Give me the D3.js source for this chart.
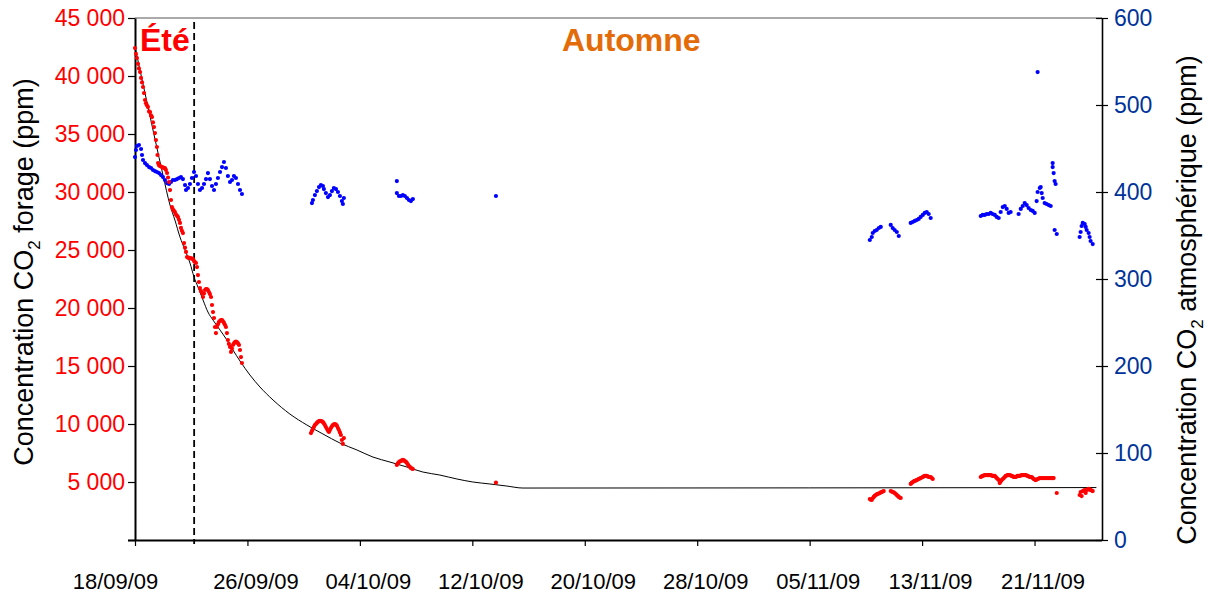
<!DOCTYPE html>
<html>
<head>
<meta charset="utf-8">
<script src="https://cdn.jsdelivr.net/npm/d3@7"></script>
<style>
  html, body { margin: 0; padding: 0; background: #fff; }
  svg { display: block; font-family: "Liberation Sans", Arial, sans-serif; }
</style>
</head>
<body>
<svg id="chart" width="1210" height="593"></svg>
<script>
// Time origin of the record; series positions are given in days since this date.
const startDate = "2009-09-18T00:00";
const endDate = "2009-11-25T19:12";
const autumnStart = "2009-09-22T05:00";

// Date axis tick labels (dd/mm/yy)
const dateTicks = ["18/09/09", "26/09/09", "04/10/09", "12/10/09", "20/10/09",
                   "28/10/09", "05/11/09", "13/11/09", "21/11/09"];
const boreholeTicks = [0, 5000, 10000, 15000, 20000, 25000, 30000, 35000, 40000, 45000];
const atmosphereTicks = [0, 100, 200, 300, 400, 500, 600];
const seasonLabels = ["Été", "Automne"];

// Borehole CO2 concentration (ppm): [days since start, ppm]
const boreholeCO2 = [
  [0.00,42410],[0.07,41900],[0.14,41550],[0.21,41050],[0.28,40650],[0.36,40340],[0.43,39830],
  [0.50,39450],[0.57,39050],[0.64,38530],[0.71,37930],[0.78,37650],[0.85,37480],[0.92,37320],
  [1.00,36950],[1.07,36890],[1.14,36600],[1.21,36460],[1.28,36000],[1.35,35600],[1.42,35080],
  [1.49,34480],[1.56,33880],[1.60,33190],[1.64,32500],[1.71,32300],[1.78,32240],[1.85,32200],
  [1.92,32150],[1.99,32100],[2.06,32080],[2.13,32070],[2.20,31900],[2.28,31640],[2.35,31250],
  [2.42,30860],[2.49,30170],[2.56,29310],[2.63,28700],[2.70,28500],[2.77,28380],[2.84,28270],
  [2.92,28050],[2.99,27950],[3.06,27840],[3.13,27600],[3.20,27330],[3.27,26900],[3.34,26650],
  [3.41,26460],[3.49,25600],[3.56,25200],[3.63,24830],[3.70,24390],[3.77,24350],[3.84,24320],
  [3.91,24310],[3.98,24280],[4.06,24250],[4.13,24220],[4.20,24050],[4.27,23950],[4.34,23880],
  [4.41,23530],[4.48,22840],[4.55,22240],[4.62,21720],[4.70,21450],[4.77,21290],[4.84,20950],
  [4.91,21250],[4.98,21550],[5.05,21620],[5.12,21640],[5.19,21550],[5.26,21380],[5.33,21200],
  [5.41,20950],[5.48,20260],[5.55,19650],[5.62,19140],[5.69,18360],[5.76,17840],[5.83,18360],
  [5.90,18600],[5.97,18790],[6.05,18900],[6.12,18960],[6.19,18960],[6.26,18850],[6.33,18710],
  [6.40,18550],[6.47,18360],[6.54,17840],[6.61,17240],[6.68,16900],[6.76,16640],[6.83,16210],
  [6.90,16500],[6.97,16810],[7.04,16950],[7.11,17070],[7.18,17100],[7.25,17070],[7.33,16950],
  [7.40,16810],[7.47,16380],[7.54,15770],[7.61,15260],
  [12.52,9220],[12.59,9400],[12.66,9570],[12.73,9750],[12.80,9910],[12.87,10000],[12.94,10090],
  [13.01,10180],[13.09,10260],[13.16,10280],[13.23,10260],[13.30,10220],[13.37,10170],[13.44,10050],
  [13.51,9910],[13.58,9740],[13.66,9570],[13.73,9420],[13.80,9310],[13.87,9480],[13.94,9650],
  [14.01,9800],[14.08,9910],[14.15,9970],[14.22,10000],[14.30,9940],[14.37,9830],[14.44,9650],
  [14.51,9480],[14.58,9270],[14.65,9050],[14.72,8620],[14.79,8280],[14.86,8790],
  [18.63,6470],[18.70,6600],[18.78,6720],[18.85,6770],[18.92,6810],[18.99,6860],[19.06,6900],
  [19.13,6860],[19.20,6810],[19.28,6730],[19.35,6640],[19.42,6500],[19.49,6380],[19.56,6290],
  [19.63,6210],[19.70,6160],[19.77,6120],
  [25.68,4940],
  [52.28,3530],[52.35,3480],[52.42,3450],[52.49,3600],[52.56,3710],[52.63,3800],[52.70,3880],
  [52.77,3930],[52.84,3970],[52.92,4010],[52.99,4050],[53.06,4100],[53.13,4140],[53.20,4180],
  [53.27,4220],
  [53.77,4220],[53.84,4180],[53.91,4140],[53.98,4100],[54.05,4050],[54.13,3960],[54.20,3880],
  [54.27,3800],[54.34,3710],[54.41,3660],[54.48,3620],
  [55.19,4830],[55.26,4920],[55.33,5000],[55.41,5050],[55.48,5090],[55.55,5130],[55.62,5170],
  [55.69,5210],[55.76,5260],[55.83,5300],[55.90,5340],[55.98,5390],[56.05,5430],[56.12,5480],
  [56.19,5520],[56.26,5520],[56.33,5520],[56.40,5480],[56.47,5430],[56.54,5430],[56.61,5430],
  [56.69,5340],[56.76,5260],
  [60.17,5430],[60.24,5480],[60.31,5520],[60.39,5560],[60.46,5600],[60.53,5600],[60.60,5600],
  [60.67,5600],[60.74,5600],[60.81,5600],[60.88,5600],[60.95,5560],[61.02,5520],[61.09,5520],
  [61.17,5520],[61.24,5430],[61.31,5340],[61.38,5260],[61.45,5170],[61.52,4910],[61.59,5040],
  [61.66,5170],[61.74,5260],[61.81,5340],[61.88,5430],[61.95,5520],[62.02,5560],[62.09,5600],
  [62.16,5600],[62.23,5600],[62.30,5560],[62.38,5520],[62.45,5480],[62.52,5430],[62.59,5430],
  [62.66,5430],[62.73,5480],[62.80,5520],[62.87,5520],[62.94,5520],[63.02,5560],[63.09,5600],
  [63.16,5600],[63.23,5600],[63.30,5600],[63.37,5600],[63.44,5560],[63.51,5520],[63.58,5480],
  [63.66,5430],[63.73,5430],[63.80,5430],[63.87,5340],[63.94,5260],[64.01,5210],[64.08,5170],
  [64.15,5210],[64.22,5260],[64.30,5300],[64.37,5340],[64.47,5340],[64.58,5340],[64.68,5340],
  [64.79,5340],[64.90,5340],[65.01,5340],[65.11,5340],[65.22,5340],[65.29,5340],[65.36,5340],
  [65.58,4050],
  [67.21,3880],[67.28,4140],[67.35,3790],[67.43,4220],[67.50,4260],[67.57,4310],[67.64,4050],
  [67.71,4310],[67.78,4350],[67.85,4400],[67.92,4350],[67.99,4310],[68.07,4260],[68.14,4220]
];

// Fitted decay curve of the borehole concentration: [days since start, ppm]
const boreholeFit = [
  [0.00,42500],[0.71,38530],[1.42,34570],[1.99,31460],[2.49,28880],[2.84,27580],[3.20,26120],
  [3.56,25000],[3.91,23880],[4.20,22670],[4.48,21810],[4.84,20690],[5.19,19650],[5.55,18960],
  [6.05,18100],[6.54,17240],[6.97,16380],[7.47,15430],[8.18,14220],[8.89,13190],[9.82,12070],
  [11.02,10860],[12.23,9910],[13.37,9140],[14.58,8360],[15.79,7760],[16.93,7150],[18.14,6720],
  [19.35,6290],[20.48,5860],[21.69,5600],[22.90,5260],[24.04,5000],[25.25,4830],[26.46,4650],
  [27.60,4480],[68.40,4520]
];

// Atmospheric CO2 concentration (ppm): [days since start, ppm]
const atmosphericCO2 = [
  [0.00,440.2],[0.07,448.3],[0.14,452.9],[0.28,454.0],[0.43,449.4],[0.50,442.5],[0.57,436.8],
  [0.71,433.3],[0.85,431.0],[1.00,428.7],[1.14,427.6],[1.28,425.3],[1.42,424.1],[1.56,423.0],
  [1.71,421.8],[1.85,419.5],[1.99,417.2],[2.13,413.8],[2.28,410.3],[2.42,409.2],[2.56,411.5],
  [2.70,413.8],[2.84,413.8],[2.99,414.9],[3.13,416.1],[3.27,417.2],[3.41,414.9],[3.56,408.0],
  [3.63,402.3],[3.77,404.6],[3.91,409.2],[4.05,416.1],[4.20,423.0],[4.34,418.4],[4.48,409.2],
  [4.62,402.3],[4.77,404.6],[4.91,409.2],[5.05,414.9],[5.19,421.8],[5.33,414.9],[5.48,406.9],
  [5.62,402.3],[5.76,409.2],[5.90,416.1],[6.05,423.0],[6.19,428.7],[6.33,434.5],[6.47,427.6],
  [6.61,418.4],[6.76,411.5],[6.90,413.8],[7.04,418.4],[7.18,416.1],[7.33,409.2],[7.47,402.3],
  [7.61,397.7],
  [12.59,387.3],[12.66,390.8],[12.80,396.5],[12.94,401.1],[13.09,405.7],[13.23,408.0],[13.37,406.9],
  [13.44,403.4],[13.58,398.8],[13.73,394.2],[13.87,396.5],[14.01,401.1],[14.15,404.6],[14.30,403.4],
  [14.44,400.0],[14.58,395.4],[14.72,389.6],[14.79,386.2],[14.86,393.1],
  [18.63,412.6],[18.63,398.8],[18.78,395.4],[18.92,395.4],[19.06,396.5],[19.20,395.4],[19.35,393.1],
  [19.49,390.8],[19.63,389.6],[19.77,391.9],
  [25.68,395.4],
  [52.28,344.8],[52.42,348.3],[52.49,352.9],[52.63,355.2],[52.77,356.3],[52.92,358.6],[53.06,359.8],
  [53.77,362.1],[53.91,358.6],[54.05,356.3],[54.20,354.0],[54.34,349.4],
  [55.19,364.4],[55.33,365.5],[55.48,366.7],[55.62,367.8],[55.76,369.0],[55.90,371.3],[56.05,373.6],
  [56.19,375.9],[56.33,377.0],[56.47,374.7],[56.61,370.1],
  [60.17,372.4],[60.31,373.6],[60.46,373.6],[60.60,374.7],[60.74,374.7],[60.88,375.9],[61.02,374.7],
  [61.17,373.6],[61.31,371.3],[61.45,370.1],[61.59,377.0],[61.74,382.7],[61.88,383.9],[62.02,380.5],
  [62.16,375.9],[62.30,377.0],[62.87,374.7],[63.02,380.5],[63.16,383.9],[63.30,387.3],[63.44,385.0],
  [63.58,381.6],[63.73,379.3],[63.87,378.2],[64.01,375.9],[64.15,389.6],[64.22,400.0],[64.37,404.6],
  [64.44,405.7],[64.51,398.8],[64.58,393.1],[64.72,387.3],[64.86,386.2],[65.01,385.0],[65.15,383.9],
  [64.22,537.9],
  [65.29,433.3],[65.29,428.7],[65.36,421.8],[65.43,412.6],[65.50,409.2],
  [65.43,356.3],[65.58,351.7],
  [67.21,348.3],[67.28,354.0],[67.35,360.9],[67.43,364.4],[67.57,363.2],[67.64,359.8],[67.71,356.3],
  [67.85,352.9],[67.92,348.3],[67.99,343.7],[68.14,340.2]
];

const svg = d3.select("#chart");
const margin = { left: 135, right: 108, top: 18, bottom: 53 };
const W = +svg.attr("width"), H = +svg.attr("height");
const x0 = margin.left, x1 = W - margin.right, y0 = margin.top, y1 = H - margin.bottom;
const tickFont = 23;

const parseISO = d3.timeParse("%Y-%m-%dT%H:%M");
const parseTick = d3.timeParse("%d/%m/%y");
const t0 = parseISO(startDate);
const dayToDate = d => new Date(t0.getTime() + d * 864e5);

const x = d3.scaleTime().domain([t0, parseISO(endDate)]).range([x0, x1]);
const yL = d3.scaleLinear().domain([0, 45000]).range([y1, y0]);
const yR = d3.scaleLinear().domain([0, 600]).range([y1, y0]);

const fr = d3.formatLocale({ decimal: ",", thousands: " ", grouping: [3], currency: ["", " €"] });
const fmtThousands = fr.format(",");

// Plot frame top edge
svg.append("line").attr("x1", x0).attr("x2", x1).attr("y1", y0).attr("y2", y0)
  .attr("stroke", "#555").attr("stroke-width", 1);

// Left axis (borehole)
const gL = svg.append("g").attr("transform", `translate(${x0},0)`)
  .call(d3.axisLeft(yL).tickValues(boreholeTicks).tickSizeInner(7).tickSizeOuter(0).tickPadding(3)
    .tickFormat(d => d === 0 ? "" : fmtThousands(d)));
gL.select(".domain").attr("stroke", "#000").attr("stroke-width", 2);
gL.selectAll(".tick line").attr("stroke", "#000").attr("stroke-width", 1.2);
gL.selectAll(".tick text").attr("fill", "#ff0000").attr("font-size", tickFont)
  .attr("font-family", "Liberation Sans, Arial, sans-serif");

// Right axis (atmosphere)
const gR = svg.append("g").attr("transform", `translate(${x1},0)`)
  .call(d3.axisRight(yR).tickValues(atmosphereTicks).tickSizeInner(6).tickSizeOuter(0).tickPadding(6));
gR.select(".domain").attr("stroke", "#000").attr("stroke-width", 1.6);
gR.selectAll(".tick line").attr("x1", -6).attr("stroke", "#000").attr("stroke-width", 1.2);
gR.selectAll(".tick text").attr("fill", "#003399").attr("font-size", tickFont)
  .attr("font-family", "Liberation Sans, Arial, sans-serif");

// Bottom date axis
const tickDates = dateTicks.map(parseTick);
const gB = svg.append("g").attr("transform", `translate(0,${y1})`)
  .call(d3.axisBottom(x).tickValues(tickDates).tickSizeInner(6).tickSizeOuter(0).tickPadding(27)
    .tickFormat(d3.timeFormat("%d/%m/%y")));
gB.select(".domain").attr("stroke", "#000").attr("stroke-width", 2)
  .attr("d", `M${x0 - 7},0.5H${x1}`);
gB.selectAll(".tick line").attr("stroke", "#000").attr("stroke-width", 1.2);
gB.selectAll(".tick text").attr("fill", "#000").attr("font-size", 22)
  .attr("font-family", "Liberation Sans, Arial, sans-serif")
  .attr("dx", (d, i) => i === 0 ? -20 : 8);

// Start of autumn marker
svg.append("line")
  .attr("x1", x(parseISO(autumnStart))).attr("x2", x(parseISO(autumnStart)))
  .attr("y1", y0 + 4).attr("y2", y1 + 4)
  .attr("stroke", "#000").attr("stroke-width", 1.8).attr("stroke-dasharray", "7,4");

// Fitted curve
svg.append("path")
  .datum(boreholeFit)
  .attr("fill", "none").attr("stroke", "#000").attr("stroke-width", 1)
  .attr("d", d3.line().x(d => x(dayToDate(d[0]))).y(d => yL(d[1])).curve(d3.curveMonotoneX));

// Atmospheric points
svg.append("g").selectAll("circle").data(atmosphericCO2).join("circle")
  .attr("cx", d => x(dayToDate(d[0]))).attr("cy", d => yR(d[1])).attr("r", 2.1)
  .attr("fill", "#0000ff");

// Borehole points
svg.append("g").selectAll("circle").data(boreholeCO2).join("circle")
  .attr("cx", d => x(dayToDate(d[0]))).attr("cy", d => yL(d[1])).attr("r", 2.1)
  .attr("fill", "#ff0000");

// Season labels
svg.append("text").attr("x", 140).attr("y", 51).text(seasonLabels[0])
  .attr("fill", "#ff0000").attr("font-weight", "bold").attr("font-size", 32);
svg.append("text").attr("x", 562).attr("y", 51).text(seasonLabels[1])
  .attr("fill", "#e36c09").attr("font-weight", "bold").attr("font-size", 32);

// Axis titles with CO2 subscript
function axisTitle(tx, ty, rest) {
  const t = svg.append("text").attr("transform", `translate(${tx},${ty}) rotate(-90)`)
    .attr("text-anchor", "middle").attr("font-size", 27).attr("fill", "#000");
  t.append("tspan").text("Concentration CO");
  t.append("tspan").text("2").attr("font-size", 17).attr("dy", 7);
  t.append("tspan").text(rest).attr("dy", -7);
}
axisTitle(33, 272, " forage (ppm)");
axisTitle(1196, 300, " atmosphérique (ppm)");
</script>
</body>
</html>
